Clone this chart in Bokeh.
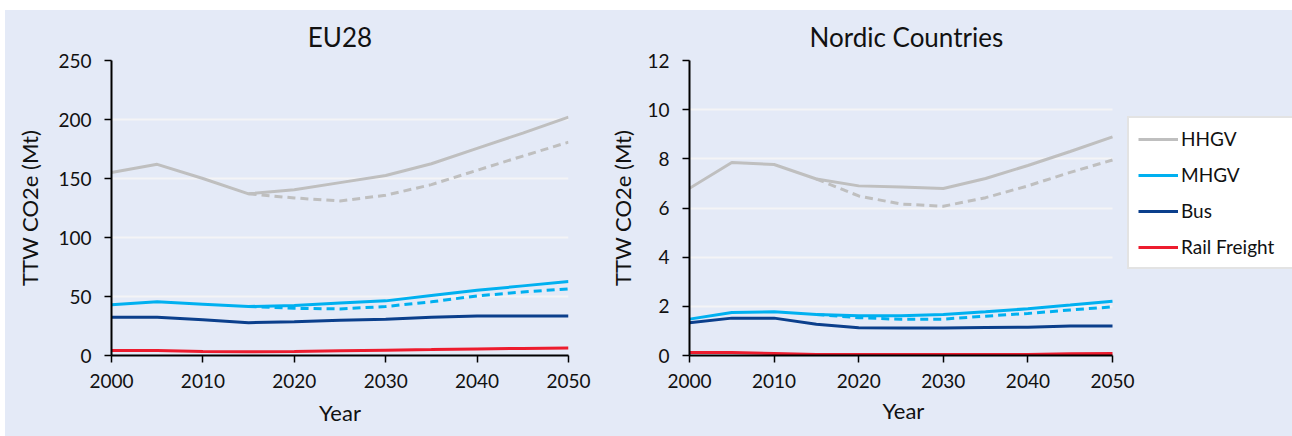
from bokeh.plotting import figure
from bokeh.layouts import row, column
from bokeh.models import Legend, LegendItem, FixedTicker, Range1d, Spacer, Title
from bokeh.embed import file_html
from bokeh.resources import INLINE

years = [2000, 2005, 2010, 2015, 2020, 2025, 2030, 2035, 2040, 2045, 2050]
years_alt = [2015, 2020, 2025, 2030, 2035, 2040, 2045, 2050]

series_names = ["HHGV", "MHGV", "Bus", "Rail Freight"]
series_colors = ["#BFBFBF", "#00B0F0", "#0B3F8C", "#ED1C2E"]

# EU28 (Mt)
eu_hhgv = [155, 162, 150, 137, 140.5, 146.5, 152.5, 162.5, 175.5, 188.5, 202]
eu_mhgv = [43, 45.5, 43.5, 41.5, 42.4, 44.4, 46.3, 50.8, 55.2, 59, 62.7]
eu_bus = [32.5, 32.5, 30.2, 27.8, 28.5, 29.8, 30.8, 32.4, 33.5, 33.4, 33.4]
eu_rail = [4.2, 4.2, 3.3, 3.1, 3.4, 4.0, 4.5, 5.0, 5.6, 6.0, 6.4]
eu_hhgv_alt = [137, 133.5, 131, 135.8, 144.8, 157, 169, 180.8]
eu_mhgv_alt = [41.5, 40, 39.5, 41.5, 45.5, 50.5, 53.8, 56.5]

# Nordic countries (Mt)
no_hhgv = [6.8, 7.85, 7.77, 7.18, 6.9, 6.85, 6.79, 7.2, 7.73, 8.3, 8.89]
no_mhgv = [1.48, 1.75, 1.78, 1.67, 1.62, 1.62, 1.67, 1.78, 1.9, 2.05, 2.21]
no_bus = [1.33, 1.52, 1.52, 1.27, 1.13, 1.12, 1.12, 1.14, 1.15, 1.2, 1.2]
no_rail = [0.12, 0.12, 0.08, 0.04, 0.04, 0.04, 0.04, 0.04, 0.04, 0.07, 0.08]
no_hhgv_alt = [7.18, 6.49, 6.16, 6.07, 6.42, 6.9, 7.45, 7.95]
no_mhgv_alt = [1.67, 1.54, 1.47, 1.48, 1.6, 1.71, 1.85, 1.98]

x_ticks = [2000, 2010, 2020, 2030, 2040, 2050]
eu_y_ticks = [0, 50, 100, 150, 200, 250]
no_y_ticks = [0, 2, 4, 6, 8, 10, 12]

BG = "#E4EAF7"
FONT = "Lato"
FIG_H = 426
X0, X1 = 2000, 2050


def make_fig(title, width, ymax, yticks, bl, br, bt, bb, xmax=X1):
    p = figure(width=width, height=FIG_H, output_backend="svg", toolbar_location=None,
               x_range=Range1d(X0, xmax), y_range=Range1d(0, ymax),
               min_border_left=bl, min_border_right=br, min_border_top=bt,
               min_border_bottom=bb, title=title)
    p.background_fill_color = BG
    p.border_fill_color = BG
    p.outline_line_color = None
    p.title.align = "center"
    p.title.text_font = FONT
    p.title.text_font_style = "normal"
    p.title.text_font_size = "26px"
    p.title.text_color = "#111111"
    p.title.standoff = 16
    p.xgrid.grid_line_color = None
    p.ygrid.grid_line_color = "#F4F4F6"
    p.ygrid.grid_line_width = 2
    p.ygrid.cross_bounds = (X0, X1)
    p.xaxis.ticker = FixedTicker(ticks=x_ticks)
    p.yaxis.ticker = FixedTicker(ticks=yticks)
    p.xaxis.bounds = (X0, X1)
    for ax in (p.xaxis, p.yaxis):
        ax.axis_line_color = "black"
        ax.axis_line_width = 2
        ax.major_tick_line_color = "black"
        ax.major_tick_line_width = 1.5
        ax.major_tick_in = 0
        ax.major_tick_out = 7
        ax.minor_tick_line_color = None
        ax.major_label_text_font = FONT
        ax.major_label_text_font_size = "19px"
        ax.major_label_text_color = "#111111"
        ax.axis_label_text_font = FONT
        ax.axis_label_text_font_size = "22px"
        ax.axis_label_text_font_style = "normal"
        ax.axis_label_text_color = "#111111"
    p.yaxis.axis_label = "TTW CO2e (Mt)"
    p.xaxis.major_label_standoff = 11
    p.xaxis.axis_label_standoff = 8
    p.yaxis.major_label_standoff = 13
    return p


def add_lines(p, data, alt):
    rs = []
    for vals, color in zip(data, series_colors):
        rs.append(p.line(years, vals, line_color=color, line_width=3))
    p.line(years_alt, alt[0], line_color=series_colors[0], line_width=3, line_dash="8 5")
    p.line(years_alt, alt[1], line_color=series_colors[1], line_width=3, line_dash="8 5")
    return rs


p1 = make_fig("EU28", 595, 250, eu_y_ticks, 106, 32, 49, 81)
p1.xaxis.axis_label = "Year"
p1.yaxis.axis_label_standoff = 12
add_lines(p1, [eu_hhgv, eu_mhgv, eu_bus, eu_rail], [eu_hhgv_alt, eu_mhgv_alt])

# right panel: frame runs to the right edge so the legend can sit beside the data area
P2_W, P2_LEFT, DATA_W = 692, 89, 423
x_end = X1 + (P2_W - P2_LEFT - DATA_W) / DATA_W * (X1 - X0)
p2 = make_fig("Nordic Countries", P2_W, 12, no_y_ticks, P2_LEFT, 0, 47, 81, xmax=x_end)
p2.title.align = "left"
p2.title.offset = 120
p2.yaxis.axis_label_standoff = 8
p2.add_layout(Title(text="Year", align="left", offset=193, text_font=FONT,
                    text_font_size="22px", text_font_style="normal",
                    text_color="#111111", standoff=8), "below")
rs = add_lines(p2, [no_hhgv, no_mhgv, no_bus, no_rail], [no_hhgv_alt, no_mhgv_alt])

legend = Legend(items=[LegendItem(label=n, renderers=[r]) for n, r in zip(series_names, rs)],
                location=(DATA_W + 15, 86))
legend.label_text_font = FONT
legend.label_text_font_size = "19px"
legend.label_text_color = "#111111"
legend.glyph_width = 40
legend.glyph_height = 20
legend.label_height = 20
legend.label_width = 150
legend.label_standoff = 3
legend.spacing = 13
legend.padding = 9
legend.margin = 0
legend.border_line_color = "#C8C8C8"
legend.border_line_width = 2
legend.background_fill_color = "white"
legend.background_fill_alpha = 1
p2.add_layout(legend, "center")

charts = row(p1, p2, spacing=0, styles={"background-color": BG})
layout = column(Spacer(height=10), row(Spacer(width=5), charts, spacing=0), spacing=0)
open("out.html", "w").write(file_html(layout, INLINE))
